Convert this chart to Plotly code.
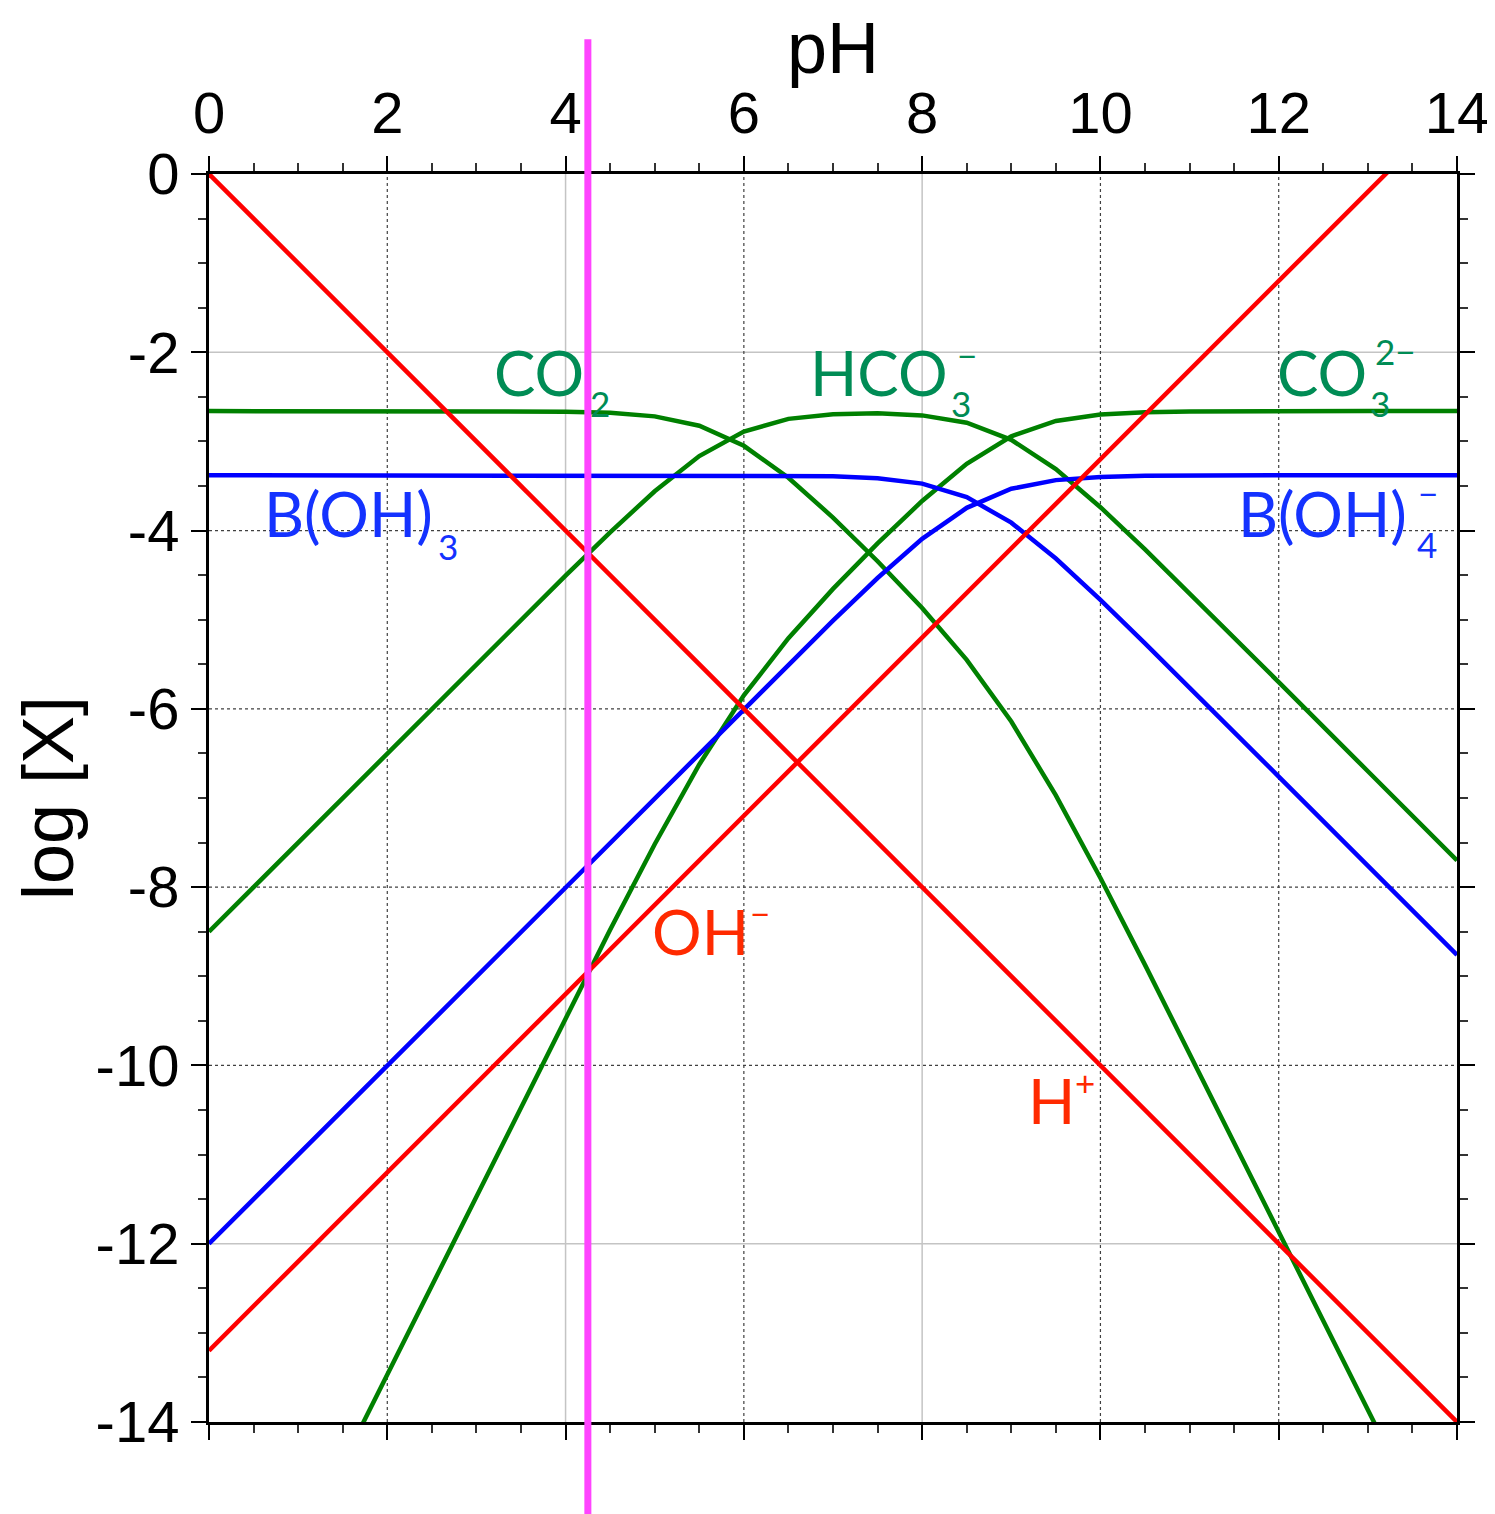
import plotly.graph_objects as go

# ---------------- data ----------------
pH_H = [0, 14]
log_H = [0, -14]
pH_OH = [0, 14]
log_OH = [-13.2, 0.8]

pH_c = [0, 1, 2, 3, 4, 4.5, 5, 5.5, 6, 6.5, 7, 7.5, 8, 8.5, 9, 9.5, 10, 10.5, 11, 11.5, 12, 13, 14]
log_CO2 = [-2.66, -2.66, -2.66, -2.66, -2.666, -2.679, -2.719, -2.824, -3.049, -3.407, -3.854, -4.344,
           -4.868, -5.450, -6.142, -6.970, -7.898, -8.872, -9.864, -10.861, -11.860, -13.860, -15.860]
log_HCO3 = [-8.50, -7.50, -6.50, -5.50, -4.506, -4.019, -3.559, -3.164, -2.889, -2.747, -2.694, -2.684,
            -2.708, -2.790, -2.982, -3.310, -3.738, -4.212, -4.704, -5.201, -5.700, -6.700, -7.700]
log_CO3 = [-17.46, -15.46, -13.46, -11.46, -9.466, -8.479, -7.519, -6.624, -5.849, -5.207, -4.654, -4.144,
           -3.668, -3.250, -2.942, -2.770, -2.698, -2.672, -2.664, -2.661, -2.660, -2.660, -2.660]

pH_b = [0, 4, 6, 7, 7.5, 8, 8.5, 9, 9.5, 10, 10.5, 11, 12, 14]
log_BOH3 = [-3.38, -3.38, -3.381, -3.390, -3.412, -3.473, -3.625, -3.911, -4.314, -4.778, -5.266, -5.762, -6.760, -8.760]
log_BOH4 = [-12.0, -8.0, -6.001, -5.010, -4.532, -4.093, -3.745, -3.531, -3.434, -3.398, -3.386, -3.382, -3.380, -3.380]

pH_marker = 4.25

x_tickvals = [0, 2, 4, 6, 8, 10, 12, 14]
x_ticktext = ["0", "2", "4", "6", "8", "10", "12", "14"]
y_tickvals = [0, -2, -4, -6, -8, -10, -12, -14]
y_ticktext = ["0", "-2", "-4", "-6", "-8", "-10", "-12", "-14"]

x_grid_solid = [4, 8]
x_grid_dashed = [2, 6, 10, 12]
y_grid_solid = [-2, -12]
y_grid_dashed = [-4, -6, -8, -10]

# ---------------- styles ----------------
GREEN = "#008000"
BLUE = "#0000FF"
RED = "#FF0000"
LBL_GREEN = "#008C55"
LBL_BLUE = "#1432FF"
LBL_RED = "#FF2A00"
LBL_FONT = "Lato"
AX_FONT = "Liberation Sans"
LW = 4.5

fig = go.Figure()

def line(x, y, color):
    fig.add_trace(go.Scatter(x=x, y=y, mode="lines", line=dict(color=color, width=LW),
                             showlegend=False, hoverinfo="skip"))

line(pH_c, log_CO2, GREEN)
line(pH_c, log_HCO3, GREEN)
line(pH_c, log_CO3, GREEN)
line(pH_b, log_BOH3, BLUE)
line(pH_b, log_BOH4, BLUE)
line(pH_H, log_H, RED)
line(pH_OH, log_OH, RED)

# grid lines drawn as shapes beneath the traces
for xv in x_grid_solid:
    fig.add_shape(type="line", xref="x", yref="paper", x0=xv, x1=xv, y0=0, y1=1,
                  line=dict(color="#C4C4C4", width=1.5), layer="below")
for yv in y_grid_solid:
    fig.add_shape(type="line", xref="paper", yref="y", x0=0, x1=1, y0=yv, y1=yv,
                  line=dict(color="#C4C4C4", width=1.5), layer="below")
for xv in x_grid_dashed:
    fig.add_shape(type="line", xref="x", yref="paper", x0=xv, x1=xv, y0=0, y1=1,
                  line=dict(color="#404040", width=1.2, dash="dot"), layer="below")
for yv in y_grid_dashed:
    fig.add_shape(type="line", xref="paper", yref="y", x0=0, x1=1, y0=yv, y1=yv,
                  line=dict(color="#404040", width=1.2, dash="dot"), layer="below")

# magenta marker line (extends beyond plot area)
fig.add_shape(type="line", xref="x", yref="paper", x0=pH_marker, x1=pH_marker, y0=-0.078, y1=1.108,
              line=dict(color="#FF44FF", width=7), layer="above")

def label(text, x, y, color, size):
    fig.add_annotation(x=x, y=y, xref="x", yref="y", text=text, showarrow=False,
                       xanchor="center", yanchor="middle",
                       font=dict(family=LBL_FONT, size=size, color=color))

BIG, SMALL = 62, 35
# CO2
label("CO", 3.70, -2.22, LBL_GREEN, BIG)
label("2", 4.39, -2.57, LBL_GREEN, SMALL)
# HCO3-
label("HCO", 7.52, -2.22, LBL_GREEN, BIG)
label("3", 8.44, -2.57, LBL_GREEN, SMALL)
label("\u2212", 8.50, -2.03, LBL_GREEN, SMALL)
# CO3 2-
label("CO", 12.49, -2.22, LBL_GREEN, BIG)
label("3", 13.14, -2.57, LBL_GREEN, SMALL)
label("2\u2212", 13.31, -1.98, LBL_GREEN, SMALL)
# B(OH)3
label("B(OH)", 1.57, -3.80, LBL_BLUE, BIG)
label("3", 2.68, -4.17, LBL_BLUE, SMALL)
# B(OH)4-
label("B(OH)", 12.49, -3.80, LBL_BLUE, BIG)
label("4", 13.66, -4.15, LBL_BLUE, SMALL)
label("\u2212", 13.68, -3.58, LBL_BLUE, SMALL)
# OH-
label("OH", 5.51, -8.49, LBL_RED, BIG)
label("\u2212", 6.18, -8.29, LBL_RED, SMALL)
# H+
label("H", 9.45, -10.39, LBL_RED, BIG)
label("+", 9.83, -10.19, LBL_RED, SMALL)

axis_common = dict(
    ticks="outside", ticklen=15, tickwidth=2, tickcolor="black",
    showline=True, linewidth=3, linecolor="black", mirror="allticks",
    showgrid=False, zeroline=False,
    tickfont=dict(family=AX_FONT, size=58, color="black"),
    minor=dict(tickmode="linear", tick0=0, dtick=0.5, ticks="outside", ticklen=8,
               tickwidth=1.5, tickcolor="#333333", showgrid=False),
)

fig.update_layout(
    width=1495, height=1514,
    margin=dict(l=201, r=46, t=166, b=100),
    paper_bgcolor="white", plot_bgcolor="white",
    xaxis=dict(range=[0, 14], side="top", tickmode="array", tickvals=x_tickvals, ticktext=x_ticktext,
               title=dict(text="pH", font=dict(family=AX_FONT, size=72, color="black"), standoff=8),
               **axis_common),
    yaxis=dict(range=[-14, 0], tickmode="array", tickvals=y_tickvals, ticktext=y_ticktext,
               title=dict(text="log [X]", font=dict(family=AX_FONT, size=72, color="black"), standoff=8),
               **axis_common),
)

fig.write_html("out.html")
